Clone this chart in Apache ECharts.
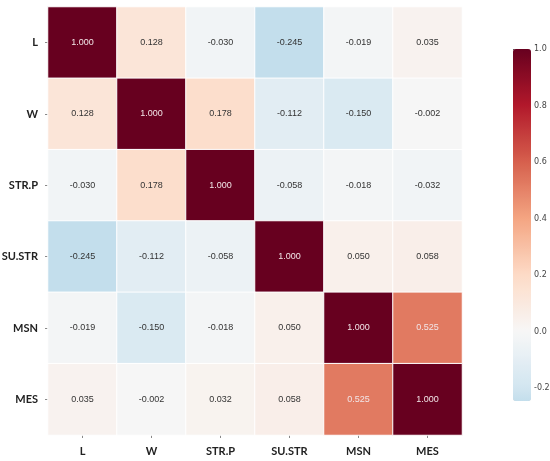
<!DOCTYPE html>
<html>
<head>
<meta charset="utf-8">
<script src="https://cdn.jsdelivr.net/npm/echarts@6/dist/echarts.min.js"></script>
<style>
  html, body { margin: 0; padding: 0; background: #fff; }
  #main { width: 550px; height: 461px; }
</style>
</head>
<body>
<div id="main"></div>
<script>
// variables (same order on both axes)
var labels = ['L', 'W', 'STR.P', 'SU.STR', 'MSN', 'MES'];

// correlation rows, top to bottom
var rowL     = [1.000, 0.128, -0.030, -0.245, -0.019, 0.035];
var rowW     = [0.128, 1.000, 0.178, -0.112, -0.150, -0.002];
var rowSTRP  = [-0.030, 0.178, 1.000, -0.058, -0.018, -0.032];
var rowSUSTR = [-0.245, -0.112, -0.058, 1.000, 0.050, 0.058];
var rowMSN   = [-0.019, -0.150, -0.018, 0.050, 1.000, 0.525];
var rowMES   = [0.035, -0.002, 0.032, 0.058, 0.525, 1.000];

// colorbar ticks
var barTicks = [-0.2, 0.0, 0.2, 0.4, 0.6, 0.8, 1.0];
var vMin = -0.245, vMax = 1.0;

var rows = [rowL, rowW, rowSTRP, rowSUSTR, rowMSN, rowMES];

// RdBu_r anchors (matplotlib), centred on 0 with range -1..1
var rdbu = ['#053061', '#2166ac', '#4393c3', '#92c5de', '#d1e5f0', '#f7f7f7',
            '#fddbc7', '#f4a582', '#d6604d', '#b2182b', '#67001f'];
function hex(c) { return [parseInt(c.substr(1, 2), 16), parseInt(c.substr(3, 2), 16), parseInt(c.substr(5, 2), 16)]; }
function cmap(t) {
    var p = t * (rdbu.length - 1), i = Math.min(Math.floor(p), rdbu.length - 2), f = p - i;
    var a = hex(rdbu[i]), b = hex(rdbu[i + 1]);
    return 'rgb(' + [0, 1, 2].map(function (k) { return Math.round(a[k] + (b[k] - a[k]) * f); }).join(',') + ')';
}
var stops = [];
for (var s = 0; s <= 50; s++) {
    var v = vMin + (vMax - vMin) * s / 50;
    stops.push(cmap((v + 1) / 2));
}

var cells = [];
rows.forEach(function (r, yi) {
    r.forEach(function (val, xi) {
        cells.push({
            value: [xi, yi, val],
            label: {color: val > 0.45 ? '#f2e6e8' : '#333'}
        });
    });
});

var tickLabel = {fontSize: 11, fontWeight: 'bold', color: '#222', fontFamily: 'Lato'};

var chart = echarts.init(document.getElementById('main'));
chart.setOption({
    animation: false,
    grid: [
        {left: 48, top: 7, width: 414, height: 428, outerBoundsMode: 'none', containLabel: false},
        {left: 513, top: 49, width: 18, height: 352, outerBoundsMode: 'none', containLabel: false}
    ],
    xAxis: [{
        type: 'category',
        data: labels,
        gridIndex: 0,
        axisLine: {show: false},
        axisTick: {show: true, alignWithLabel: true, length: 3, lineStyle: {color: '#888'}},
        axisLabel: Object.assign({margin: 11}, tickLabel),
        splitLine: {show: false}
    }, {
        type: 'value', gridIndex: 1, show: false, min: 0, max: 1
    }],
    yAxis: [{
        type: 'category',
        data: labels,
        inverse: true,
        gridIndex: 0,
        axisLine: {show: false},
        axisTick: {show: true, alignWithLabel: true, length: 3, lineStyle: {color: '#888'}},
        axisLabel: Object.assign({margin: 10}, tickLabel),
        splitLine: {show: false}
    }, {
        type: 'value',
        gridIndex: 1,
        position: 'right',
        min: vMin,
        max: vMax,
        axisLine: {show: false},
        splitLine: {show: false},
        axisTick: {show: true, length: 3, customValues: barTicks, lineStyle: {color: '#555'}},
        axisLabel: {
            customValues: barTicks, margin: 3, fontSize: 8, color: '#444',
            fontFamily: 'DejaVu Sans',
            formatter: function (v) { return v.toFixed(1); }
        }
    }],
    visualMap: {
        type: 'continuous',
        min: vMin,
        max: vMax,
        dimension: 2,
        seriesIndex: 0,
        calculable: false,
        left: 513,
        top: 49,
        itemWidth: 18,
        itemHeight: 352,
        padding: 0,
        text: null,
        inRange: {color: stops}
    },
    series: [{
        type: 'heatmap',
        xAxisIndex: 0,
        yAxisIndex: 0,
        data: cells,
        itemStyle: {borderColor: '#fff', borderWidth: 1},
        label: {
            show: true,
            fontSize: 9,
            fontFamily: 'Liberation Sans',
            formatter: function (p) { return p.value[2].toFixed(3); }
        },
        emphasis: {disabled: true}
    }]
});
</script>
</body>
</html>
